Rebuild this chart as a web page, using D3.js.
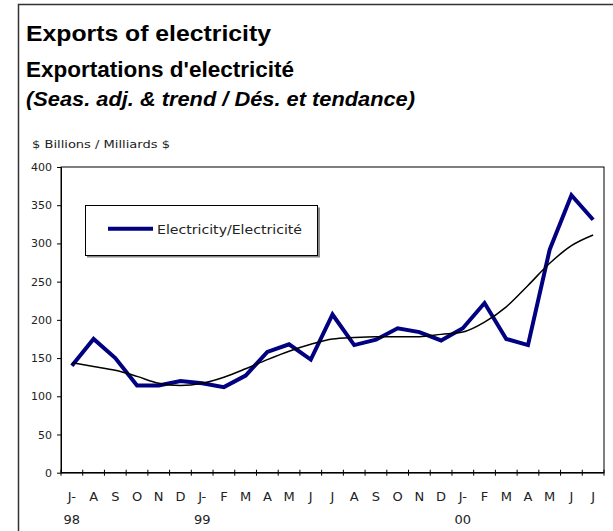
<!DOCTYPE html>
<html>
<head>
<meta charset="utf-8">
<script src="https://cdn.jsdelivr.net/npm/d3@7"></script>
<style>
  html, body { margin: 0; padding: 0; background: #fff; }
  svg { display: block; }
</style>
</head>
<body>
<svg id="chart" width="613" height="531"></svg>
<script>
// ---- Data ----
const months = ["J-","A","S","O","N","D","J-","F","M","A","M","J","J","A","S","O","N","D","J-","F","M","A","M","J","J"];
const years  = ["98","","","","","","99","","","","","","","","","","","","00","","","","","",""];
const electricity = [140,175,150,114,114,120,117,112,127,158,168,148,207,167,174,189,184,173,189,222,175,167,292,363,331];
const trend       = [144,139,134,126,117,114,117,125,136,148,159,168,175,177,178,178,178,181,184,197,217,245,274,297,311];
const yTicks = [0,50,100,150,200,250,300,350,400];
const titleLines = ["Exports of electricity", "Exportations d'electricité", "(Seas. adj. & trend / Dés. et tendance)"];
const unitLabel = "$ Billions / Milliards $";
const seriesName = "Electricity/Electricité";

(function () {
const idx = d3.range(months.length);
const svg = d3.select("#chart");

// Outer frame (left and top edges visible)
svg.append("path")
  .attr("d", "M18.5,531 L18.5,4.5 L613,4.5")
  .attr("fill", "none").attr("stroke", "#333").attr("stroke-width", 1.5);

// Titles
const tf = "'Liberation Sans', Arial, sans-serif";
svg.append("text").attr("x", 26).attr("y", 41).text(titleLines[0])
  .attr("font-family", tf).attr("font-weight", "bold").attr("font-size", 22)
  .attr("textLength", 245).attr("lengthAdjust", "spacingAndGlyphs");
svg.append("text").attr("x", 26).attr("y", 77).text(titleLines[1])
  .attr("font-family", tf).attr("font-weight", "bold").attr("font-size", 22)
  .attr("textLength", 268).attr("lengthAdjust", "spacingAndGlyphs");
svg.append("text").attr("x", 26).attr("y", 106).text(titleLines[2])
  .attr("font-family", tf).attr("font-weight", "bold").attr("font-style", "italic").attr("font-size", 21)
  .attr("textLength", 389).attr("lengthAdjust", "spacingAndGlyphs");

const lf = "'DejaVu Sans', sans-serif";
svg.append("text").attr("x", 32).attr("y", 148).text(unitLabel)
  .attr("font-family", lf).attr("font-size", 11).attr("fill", "#222")
  .attr("textLength", 138).attr("lengthAdjust", "spacingAndGlyphs");

// Plot area
const pL = 61, pR = 604, pT = 167, pB = 472.7;
const x = d3.scaleBand().domain(idx).range([pL, pR]).paddingInner(0).paddingOuter(0);
const y = d3.scaleLinear().domain([0, 400]).range([pB, pT]);

svg.append("rect").attr("x", pL).attr("y", pT)
  .attr("width", pR - pL).attr("height", pB - pT)
  .attr("fill", "none").attr("stroke", "#000").attr("stroke-width", 1);

// Y axis
const ya = svg.append("g").attr("transform", `translate(${pL},0)`)
  .call(d3.axisLeft(y).tickValues(yTicks).tickSize(4).tickSizeOuter(0).tickPadding(5));
ya.select(".domain").attr("stroke", "#000");
ya.selectAll(".tick line").attr("stroke", "#000");
ya.selectAll(".tick text").attr("font-family", lf).attr("font-size", 11).attr("fill", "#222");

// X axis: line, ticks at category boundaries, labels centred in bands
svg.append("line").attr("x1", pL).attr("x2", pR).attr("y1", pB).attr("y2", pB)
  .attr("stroke", "#000").attr("stroke-width", 1.5);
const bounds = idx.map(i => x(i)).concat([x(idx[idx.length - 1]) + x.bandwidth()]);
svg.append("g").selectAll("line").data(bounds).join("line")
  .attr("x1", d => d).attr("x2", d => d)
  .attr("y1", pB - 3).attr("y2", pB + 3)
  .attr("stroke", "#000").attr("stroke-width", 1);
svg.append("g").selectAll("text").data(idx).join("text")
  .attr("x", i => x(i) + x.bandwidth() / 2).attr("y", 500.5)
  .attr("text-anchor", "middle").attr("font-family", lf).attr("font-size", 13).attr("fill", "#222")
  .text(i => months[i]);
svg.append("g").selectAll("text").data(idx.filter(i => years[i])).join("text")
  .attr("x", i => x(i) + x.bandwidth() / 2).attr("y", 524)
  .attr("text-anchor", "middle").attr("font-family", lf).attr("font-size", 13).attr("fill", "#222")
  .text(i => years[i]);

// Lines
const cx = i => x(i) + x.bandwidth() / 2;
svg.append("path").datum(electricity).attr("d", d3.line().x((d, i) => cx(i)).y(d => y(d)))
  .attr("fill", "none").attr("stroke", "#000080").attr("stroke-width", 4)
  .attr("stroke-linejoin", "miter");
svg.append("path").datum(trend).attr("d", d3.line().x((d, i) => cx(i)).y(d => y(d)).curve(d3.curveMonotoneX))
  .attr("fill", "none").attr("stroke", "#000").attr("stroke-width", 1.5);

// Legend
svg.append("rect").attr("x", 87).attr("y", 207.5).attr("width", 233).attr("height", 50).attr("fill", "#888");
svg.append("rect").attr("x", 85.5).attr("y", 205.5).attr("width", 232).attr("height", 50)
  .attr("fill", "#fff").attr("stroke", "#000").attr("stroke-width", 1);
svg.append("line").attr("x1", 108).attr("x2", 153).attr("y1", 228.7).attr("y2", 228.7)
  .attr("stroke", "#000080").attr("stroke-width", 4);
svg.append("text").attr("x", 157).attr("y", 233.5).text(seriesName)
  .attr("font-family", lf).attr("font-size", 12.5).attr("fill", "#222")
  .attr("textLength", 145).attr("lengthAdjust", "spacingAndGlyphs");
})();
</script>
</body>
</html>
